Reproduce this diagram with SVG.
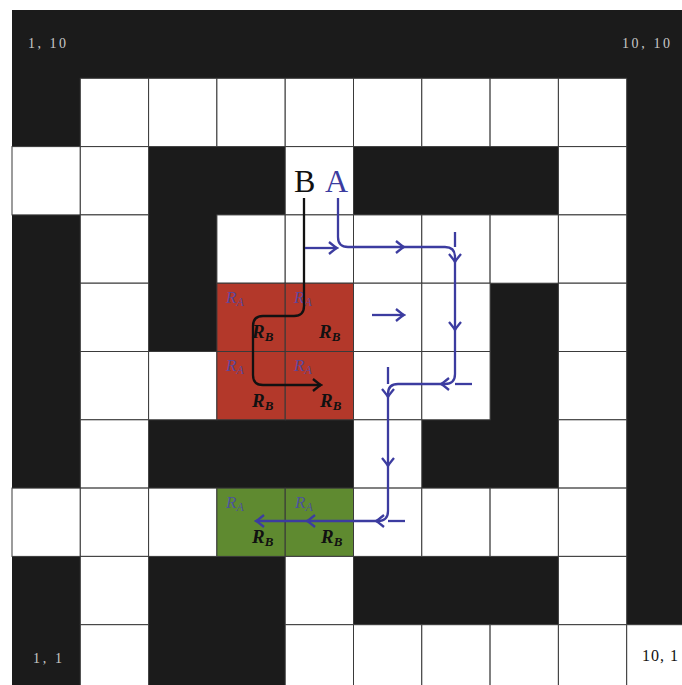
<svg xmlns="http://www.w3.org/2000/svg" width="682" height="685" viewBox="0 0 682 685">
<style>
.w{fill:#ffffff;stroke:#3a3a3a;stroke-width:1}
.r{fill:#b3382a;stroke:#3a3a3a;stroke-width:1}
.g{fill:#5f8a30;stroke:#3a3a3a;stroke-width:1}
.lab{font-family:"Liberation Serif",serif;font-size:14px;fill:#c8c8c8}
.big{font-family:"Liberation Serif",serif;font-size:32px}
.ra{font-family:"Liberation Serif",serif;font-style:italic;font-size:17px;fill:#4848b0;fill-opacity:0.85}
.rb{font-family:"Liberation Serif",serif;font-style:italic;font-weight:bold;font-size:19px;fill:#111}
.pa{fill:none;stroke:#3c3ca0;stroke-width:2.3}
.pb{fill:none;stroke:#111;stroke-width:2.3}
</style>
<defs>
<marker id="ahA" viewBox="-10 -7 12 14" refX="0" refY="0" markerWidth="12" markerHeight="14" markerUnits="userSpaceOnUse" orient="auto">
<path d="M -8 -6 Q -2 -1 0 0 Q -2 1 -8 6" fill="none" stroke="#3c3ca0" stroke-width="2.3"/>
</marker>
<marker id="ahB" viewBox="-10 -7 12 14" refX="0" refY="0" markerWidth="12" markerHeight="14" markerUnits="userSpaceOnUse" orient="auto">
<path d="M -8 -6 Q -2 -1 0 0 Q -2 1 -8 6" fill="none" stroke="#111" stroke-width="2.3"/>
</marker>
</defs>
<rect x="0" y="0" width="682" height="685" fill="#ffffff"/>
<g id="maze">
<rect x="12" y="10" width="683" height="683" fill="#1b1b1b"/>
<rect class="w" x="80.3" y="78.3" width="68.3" height="68.3"/>
<rect class="w" x="148.6" y="78.3" width="68.3" height="68.3"/>
<rect class="w" x="216.9" y="78.3" width="68.3" height="68.3"/>
<rect class="w" x="285.2" y="78.3" width="68.3" height="68.3"/>
<rect class="w" x="353.5" y="78.3" width="68.3" height="68.3"/>
<rect class="w" x="421.8" y="78.3" width="68.3" height="68.3"/>
<rect class="w" x="490.1" y="78.3" width="68.3" height="68.3"/>
<rect class="w" x="558.4" y="78.3" width="68.3" height="68.3"/>
<rect class="w" x="12" y="146.6" width="68.3" height="68.3"/>
<rect class="w" x="80.3" y="146.6" width="68.3" height="68.3"/>
<rect class="w" x="285.2" y="146.6" width="68.3" height="68.3"/>
<rect class="w" x="558.4" y="146.6" width="68.3" height="68.3"/>
<rect class="w" x="80.3" y="214.9" width="68.3" height="68.3"/>
<rect class="w" x="216.9" y="214.9" width="68.3" height="68.3"/>
<rect class="w" x="285.2" y="214.9" width="68.3" height="68.3"/>
<rect class="w" x="353.5" y="214.9" width="68.3" height="68.3"/>
<rect class="w" x="421.8" y="214.9" width="68.3" height="68.3"/>
<rect class="w" x="490.1" y="214.9" width="68.3" height="68.3"/>
<rect class="w" x="558.4" y="214.9" width="68.3" height="68.3"/>
<rect class="w" x="80.3" y="283.2" width="68.3" height="68.3"/>
<rect class="r" x="216.9" y="283.2" width="68.3" height="68.3"/>
<rect class="r" x="285.2" y="283.2" width="68.3" height="68.3"/>
<rect class="w" x="353.5" y="283.2" width="68.3" height="68.3"/>
<rect class="w" x="421.8" y="283.2" width="68.3" height="68.3"/>
<rect class="w" x="558.4" y="283.2" width="68.3" height="68.3"/>
<rect class="w" x="80.3" y="351.5" width="68.3" height="68.3"/>
<rect class="w" x="148.6" y="351.5" width="68.3" height="68.3"/>
<rect class="r" x="216.9" y="351.5" width="68.3" height="68.3"/>
<rect class="r" x="285.2" y="351.5" width="68.3" height="68.3"/>
<rect class="w" x="353.5" y="351.5" width="68.3" height="68.3"/>
<rect class="w" x="421.8" y="351.5" width="68.3" height="68.3"/>
<rect class="w" x="558.4" y="351.5" width="68.3" height="68.3"/>
<rect class="w" x="80.3" y="419.8" width="68.3" height="68.3"/>
<rect class="w" x="353.5" y="419.8" width="68.3" height="68.3"/>
<rect class="w" x="558.4" y="419.8" width="68.3" height="68.3"/>
<rect class="w" x="12" y="488.1" width="68.3" height="68.3"/>
<rect class="w" x="80.3" y="488.1" width="68.3" height="68.3"/>
<rect class="w" x="148.6" y="488.1" width="68.3" height="68.3"/>
<rect class="g" x="216.9" y="488.1" width="68.3" height="68.3"/>
<rect class="g" x="285.2" y="488.1" width="68.3" height="68.3"/>
<rect class="w" x="353.5" y="488.1" width="68.3" height="68.3"/>
<rect class="w" x="421.8" y="488.1" width="68.3" height="68.3"/>
<rect class="w" x="490.1" y="488.1" width="68.3" height="68.3"/>
<rect class="w" x="558.4" y="488.1" width="68.3" height="68.3"/>
<rect class="w" x="80.3" y="556.4" width="68.3" height="68.3"/>
<rect class="w" x="285.2" y="556.4" width="68.3" height="68.3"/>
<rect class="w" x="558.4" y="556.4" width="68.3" height="68.3"/>
<rect class="w" x="80.3" y="624.7" width="68.3" height="68.3"/>
<rect class="w" x="285.2" y="624.7" width="68.3" height="68.3"/>
<rect class="w" x="353.5" y="624.7" width="68.3" height="68.3"/>
<rect class="w" x="421.8" y="624.7" width="68.3" height="68.3"/>
<rect class="w" x="490.1" y="624.7" width="68.3" height="68.3"/>
<rect class="w" x="558.4" y="624.7" width="68.3" height="68.3"/>
<rect class="w" x="626.7" y="624.7" width="68.3" height="68.3"/>
</g>
<g id="corner-labels">
<text class="lab" x="28" y="48" textLength="38">1, 10</text>
<text class="lab" x="622" y="48" textLength="48">10, 10</text>
<text class="lab" x="33" y="663" textLength="29">1, 1</text>
<text class="lab" x="642" y="661" textLength="36" style="fill:#111;font-size:16px">10, 1</text>
</g>
<g id="region-labels">
<text class="ra" x="226" y="303">R<tspan font-size="12" dy="3">A</tspan></text>
<text class="rb" x="252" y="338">R<tspan font-size="13" dy="3">B</tspan></text>
<text class="ra" x="294" y="303">R<tspan font-size="12" dy="3">A</tspan></text>
<text class="rb" x="319" y="338">R<tspan font-size="13" dy="3">B</tspan></text>
<text class="ra" x="226" y="371">R<tspan font-size="12" dy="3">A</tspan></text>
<text class="rb" x="252" y="407">R<tspan font-size="13" dy="3">B</tspan></text>
<text class="ra" x="294" y="371">R<tspan font-size="12" dy="3">A</tspan></text>
<text class="rb" x="320" y="407">R<tspan font-size="13" dy="3">B</tspan></text>
<text class="ra" x="226" y="508">R<tspan font-size="12" dy="3">A</tspan></text>
<text class="rb" x="252" y="543">R<tspan font-size="13" dy="3">B</tspan></text>
<text class="ra" x="295" y="508">R<tspan font-size="12" dy="3">A</tspan></text>
<text class="rb" x="321" y="543">R<tspan font-size="13" dy="3">B</tspan></text>
</g>
<g id="agent-B">
<text class="big" x="294" y="192" fill="#111">B</text>
</g>
<g id="agent-A">
<text class="big" x="325" y="192" fill="#3c3ca0">A</text>
</g>
<g id="connectors">
<path class="pb" d="M 304 198 V 306 Q 304 316 294 316 H 263 Q 253 316 253 326 V 375 Q 253 385 263 385 H 321" marker-end="url(#ahB)"/>
<path class="pa" d="M 305 248 H 337" marker-end="url(#ahA)"/>
<path class="pa" d="M 338 198 V 237 Q 338 247 348 247 H 445 Q 455 247 455 257 V 374 Q 455 384 445 384 H 398 Q 388 384 388 394 V 511 Q 388 521 378 521 H 256" marker-end="url(#ahA)"/>
<path class="pa" d="M 455 232 V 247"/>
<path class="pa" d="M 472 384 H 455"/>
<path class="pa" d="M 388 367 V 384"/>
<path class="pa" d="M 405 521 H 388"/>
<path class="pa" d="M 372 315 H 404" marker-end="url(#ahA)"/>
<path class="pa" d="M 400 247 H 404" marker-end="url(#ahA)"/>
<path class="pa" d="M 455 258 V 262" marker-end="url(#ahA)"/>
<path class="pa" d="M 455 326 V 330" marker-end="url(#ahA)"/>
<path class="pa" d="M 445 384 H 441" marker-end="url(#ahA)"/>
<path class="pa" d="M 388 393 V 397" marker-end="url(#ahA)"/>
<path class="pa" d="M 388 462 V 466" marker-end="url(#ahA)"/>
<path class="pa" d="M 380 521 H 376" marker-end="url(#ahA)"/>
<path class="pa" d="M 311 521 H 307" marker-end="url(#ahA)"/>
</g>
</svg>
